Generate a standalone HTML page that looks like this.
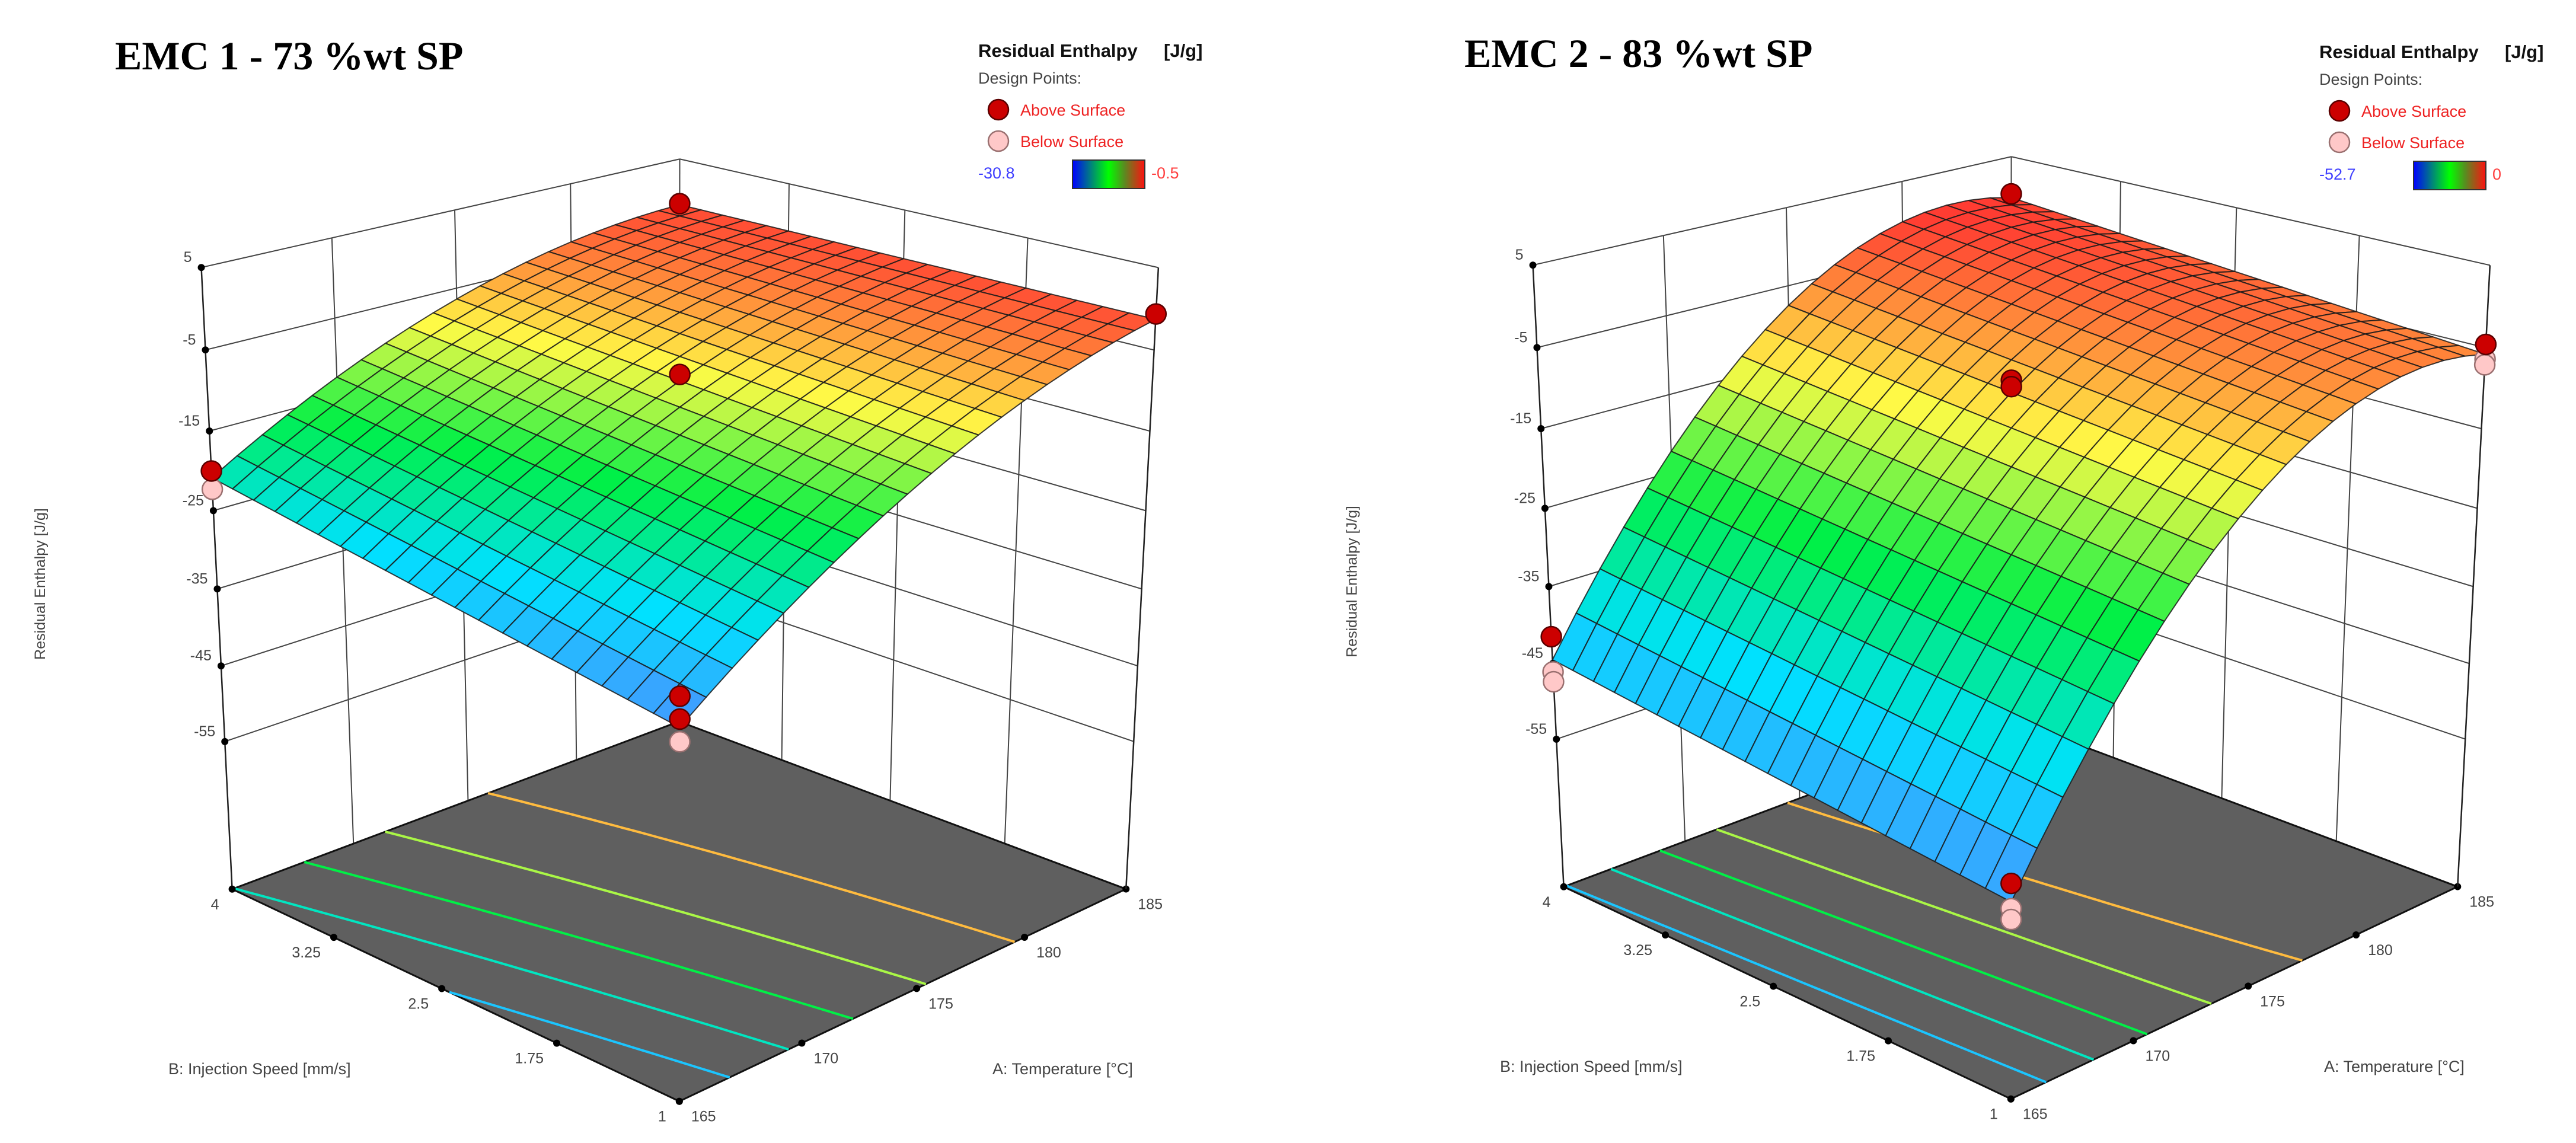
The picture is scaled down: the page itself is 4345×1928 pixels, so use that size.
<!DOCTYPE html>
<html><head><meta charset="utf-8">
<style>
html,body{margin:0;padding:0;background:#fff;}
svg{display:block;}
text{font-family:"Liberation Sans",sans-serif;}
</style></head>
<body>
<svg id="root" xmlns="http://www.w3.org/2000/svg" width="4345" height="1928" viewBox="0 0 4345 1928">
<defs>
<linearGradient id="cbar" x1="0" x2="1" y1="0" y2="0">
<stop offset="0" stop-color="#0000ff"/><stop offset="0.5" stop-color="#00ff00"/><stop offset="0.72" stop-color="#5a8a20"/><stop offset="1" stop-color="#ff1010"/>
</linearGradient>
</defs>
<rect x="0" y="0" width="4345" height="1928" fill="#fff"/>
</svg>
<script>
// ---- data ----
const zTicks=[5,-5,-15,-25,-35,-45,-55];
const aTicks=[165,170,175,180,185];
const bTicks=[1,1.75,2.5,3.25,4];
const bTickLabels=["1","1.75","2.5","3.25","4"];
// response-surface model coefficients [c0, cA, cB, cAB, cA2, cB2] (coded units)
const emc1Coef=[-8.8,12.2,2.4,-2.35,-4.6,0];
const emc2Coef=[-10.5,22.3,2.95,-0.3,-14.95,0];
const emc1Range=[-30.8,-0.5];
const emc2Range=[-52.7,0];
const emc1PtA=[185,185,175,165,165,165,165,165];
const emc1PtB=[4,1,2.5,4,4,1,1,1];
const emc1PtZ=[-1.0,-0.6,-8.0,-20.0,-22.3,-26.8,-29.4,-32.0];
const emc1PtAbove=[1,1,1,1,0,1,1,0];
const emc2PtA=[185,185,185,185,175,175,165,165,165,165,165,165];
const emc2PtB=[4,1,1,1,2.5,2.5,4,4,4,1,1,1];
const emc2PtZ=[0,-4.6,-6.4,-7.1,-9.0,-9.8,-41.5,-46.1,-47.4,-48.8,-51.8,-53.1];
const emc2PtAbove=[1,1,0,0,1,1,1,0,0,1,0,0];

const zMin=-75,zMax=5;
const NS="http://www.w3.org/2000/svg";
const root=document.getElementById('root');
function el(tag,attrs,parent){const e=document.createElementNS(NS,tag);for(const k in attrs)e.setAttribute(k,attrs[k]);(parent||root).appendChild(e);return e;}

function fitCamera(pts){
  const A=[],b=[];
  pts.forEach(p=>{const [u,v,w,x,y]=p;
    A.push([u,v,w,1,0,0,0,0,-x*u,-x*v,-x*w]);b.push(x);
    A.push([0,0,0,0,u,v,w,1,-y*u,-y*v,-y*w]);b.push(y);});
  const n=11,M=[];
  for(let i=0;i<n;i++){M.push(new Array(n+1).fill(0));
    for(let j=0;j<n;j++){let s=0;for(let r=0;r<A.length;r++)s+=A[r][i]*A[r][j];M[i][j]=s;}
    let s=0;for(let r=0;r<A.length;r++)s+=A[r][i]*b[r];M[i][n]=s;}
  for(let c=0;c<n;c++){let p=c;for(let r=c+1;r<n;r++)if(Math.abs(M[r][c])>Math.abs(M[p][c]))p=r;
    [M[c],M[p]]=[M[p],M[c]];
    for(let r=0;r<n;r++){if(r===c)continue;const f=M[r][c]/M[c][c];for(let k=c;k<=n;k++)M[r][k]-=f*M[c][k];}}
  const P=[];for(let i=0;i<n;i++)P.push(M[i][n]/M[i][i]);
  return P;
}

function cmap(t){
  t=Math.max(0,Math.min(1,t));
  const st=[[0,[80,140,255]],[0.25,[0,225,255]],[0.5,[0,240,70]],[0.75,[255,250,70]],[1,[255,60,50]]];
  for(let i=0;i<st.length-1;i++){if(t<=st[i+1][0]){const f=(t-st[i][0])/(st[i+1][0]-st[i][0]);
    const c=st[i][1].map((v,k)=>Math.round(v+(st[i+1][1][k]-v)*f));return `rgb(${c[0]},${c[1]},${c[2]})`;}}
  return 'rgb(255,60,50)';
}

function drawChart(cfg){
  const {dx,dy,coef,range,ptA,ptB,ptZ,ptAbove,title,titleX,legX,legY,minLabel,maxLabel,key}=cfg;
  const g=el('g',{});
  
  
  const cal=[[0,0,0,1146,1860],[0,1,0,391,1497],[1,0,0,1899,1497],[1,1,0,1146,1220],
             [0,1,1,340,452],[1,0,1,1954,452],[1,1,1,1146,267]].map(p=>[p[0],p[1],p[2],p[3]+dx,p[4]+dy]);
  const P=fitCamera(cal);
  function projUVW(u,v,w){const s=P[8]*u+P[9]*v+P[10]*w+1;
    return [(P[0]*u+P[1]*v+P[2]*w+P[3])/s,(P[4]*u+P[5]*v+P[6]*w+P[7])/s];}
  function proj(A,B,z){return projUVW((A-165)/20,(B-1)/3,(z-zMin)/(zMax-zMin));}
  function f(A,B){const a=(A-175)/10,b=(B-2.5)/1.5;
    return coef[0]+coef[1]*a+coef[2]*b+coef[3]*a*b+coef[4]*a*a+coef[5]*b*b;}
  const pstr=pts=>pts.map(p=>p[0].toFixed(1)+','+p[1].toFixed(1)).join(' ');
  function line(p1,p2,stroke,w,name,parent){const l=el('line',{x1:p1[0],y1:p1[1],x2:p2[0],y2:p2[1],stroke:stroke,'stroke-width':w},parent||g);
    
    return l;}

  const t=el('text',{x:titleX,y:117+dy,'font-size':68,'font-weight':'bold',fill:'#000',style:'font-family:"Liberation Serif",serif'},g);
  t.textContent=title;
  
  

  const wallCol='#444';
  zTicks.forEach(z=>{
    line(proj(165,4,z),proj(185,4,z),wallCol,2,'left-wall-gridline');
    line(proj(185,4,z),proj(185,1,z),wallCol,2,'right-wall-gridline');
  });
  aTicks.slice(1).forEach(A=>line(proj(A,4,zMin),proj(A,4,zMax),wallCol,2,'left-wall-vertical'));
  bTicks.slice(0,4).forEach(B=>line(proj(185,B,zMin),proj(185,B,zMax),wallCol,2,'right-wall-vertical'));
  line(proj(165,4,zMin),proj(165,4,zMax),'#222',2.5,'z-axis-line');

  const floor=el('polygon',{points:pstr([proj(165,1,zMin),proj(165,4,zMin),proj(185,4,zMin),proj(185,1,zMin)]),fill:'#5f5f5f',stroke:'#111','stroke-width':3},g);
  
  

  for(let k=1;k<=5;k++){
    const lvl=range[0]+k*(range[1]-range[0])/6;
    let pts=[];
    for(let i=0;i<=60;i++){const B=1+3*i/60;let found=null;
      let prevA=165,prevV=f(165,B)-lvl;
      for(let j=1;j<=400;j++){const A=165+20*j/400,vv=f(A,B)-lvl;
        if(prevV<=0&&vv>0){found=prevA+(A-prevA)*(-prevV)/(vv-prevV);break;}prevA=A;prevV=vv;}
      if(found!==null)pts.push(proj(found,B,zMin));}
    if(pts.length>1){const pl=el('polyline',{points:pstr(pts),fill:'none',stroke:cmap(k/6),'stroke-width':4},g);
      
      }
  }

  bTicks.forEach((B,i)=>{const p=proj(165,B,zMin);
    const d=el('circle',{cx:p[0],cy:p[1],r:6,fill:'#000'},g);
    
    
    const tx=el('text',{x:p[0]-22,y:p[1]+34,'font-size':25,fill:'#444','text-anchor':'end'},g);
    tx.textContent=bTickLabels[i];
    
    });
  aTicks.forEach(A=>{const p=proj(A,1,zMin);
    const d=el('circle',{cx:p[0],cy:p[1],r:6,fill:'#000'},g);
    
    
    const tx=el('text',{x:p[0]+20,y:p[1]+34,'font-size':25,fill:'#444'},g);
    tx.textContent=String(A);
    
    });
  zTicks.forEach(z=>{const p=proj(165,4,z);
    const d=el('circle',{cx:p[0],cy:p[1],r:6,fill:'#000'},g);
    
    
    const tx=el('text',{x:p[0]-16,y:p[1]-9,'font-size':25,fill:'#444','text-anchor':'end'},g);
    tx.textContent=String(z);
    
    });

  const N=20,cells=[];
  for(let i=0;i<N;i++)for(let j=0;j<N;j++)cells.push([i,j]);
  cells.sort((p,q)=>(q[0]+q[1])-(p[0]+p[1]));
  const sg=el('g',{},g);
  
  
  cells.forEach(([i,j])=>{
    const A0=165+20*i/N,A1=165+20*(i+1)/N,B0=1+3*j/N,B1=1+3*(j+1)/N;
    const pts=[proj(A0,B0,f(A0,B0)),proj(A1,B0,f(A1,B0)),proj(A1,B1,f(A1,B1)),proj(A0,B1,f(A0,B1))];
    const val=f((A0+A1)/2,(B0+B1)/2);
    const c=el('polygon',{points:pstr(pts),fill:cmap((val-range[0])/(range[1]-range[0])),stroke:'#1a1a1a','stroke-width':2,'stroke-opacity':0.85,'stroke-linejoin':'round'},sg);
    
    
  });

  line(proj(185,1,zMin),proj(185,1,zMax),'#222',2.5,'right-vertical-edge');

  [0,1].forEach(pass=>{
    ptA.forEach((A,i)=>{if(ptAbove[i]!==pass)return;
      const p=proj(A,ptB[i],ptZ[i]);
      const c=el('circle',{cx:p[0],cy:p[1],r:17,fill:pass?'#cc0000':'#ffc8c8',stroke:pass?'#5a0000':'#9a7070','stroke-width':2.5},g);
      
      });
  });

  const yt=el('text',{x:0,y:0,'font-size':25,fill:'#444','text-anchor':'middle',transform:`translate(${76+dx*0.985},${985+dy}) rotate(-90)`},g);
  yt.textContent='Residual Enthalpy [J/g]';
  
  
  const bt=el('text',{x:284+dx,y:1812+dy,'font-size':27,fill:'#444'},g);
  bt.textContent='B: Injection Speed [mm/s]';
  
  
  const at=el('text',{x:1674+dx,y:1812+dy,'font-size':27,fill:'#444'},g);
  at.textContent='A: Temperature [°C]';
  
  

  const lg=el('g',{},g);
  
  
  const l1=el('text',{x:legX,y:legY,'font-size':31,'font-weight':'bold',fill:'#111'},lg);
  
  
  const ts1=el('tspan',{},l1);ts1.textContent='Residual Enthalpy';
  const ts2=el('tspan',{x:legX+313},l1);ts2.textContent='[J/g]';
  const l2=el('text',{x:legX,y:legY+45,'font-size':27,fill:'#444'},lg);
  l2.textContent='Design Points:';
  
  
  const c1=el('circle',{cx:legX+34,cy:legY+89,r:17,fill:'#cc0000',stroke:'#5a0000','stroke-width':2.5},lg);
  
  
  const l3=el('text',{x:legX+71,y:legY+99,'font-size':27,fill:'#ee2222'},lg);
  l3.textContent='Above Surface';
  
  
  const c2=el('circle',{cx:legX+34,cy:legY+142,r:17,fill:'#ffc8c8',stroke:'#9a7070','stroke-width':2.5},lg);
  
  
  const l4=el('text',{x:legX+71,y:legY+152,'font-size':27,fill:'#ee2222'},lg);
  l4.textContent='Below Surface';
  
  
  const l5=el('text',{x:legX,y:legY+205,'font-size':27,fill:'#4040ff'},lg);
  l5.textContent=minLabel;
  
  
  const cb=el('rect',{x:legX+159,y:legY+174,width:122,height:48,fill:'url(#cbar)',stroke:'#333','stroke-width':2},lg);
  
  
  const l6=el('text',{x:legX+292,y:legY+205,'font-size':27,fill:'#ff4040'},lg);
  l6.textContent=maxLabel;
  
  
}

drawChart({key:'emc1',dx:0,dy:0,coef:emc1Coef,range:emc1Range,ptA:emc1PtA,ptB:emc1PtB,ptZ:emc1PtZ,ptAbove:emc1PtAbove,
  title:'EMC 1 - 73 %wt SP',titleX:194,legX:1650,legY:96,minLabel:'-30.8',maxLabel:'-0.5'});
drawChart({key:'emc2',dx:2246,dy:-4,coef:emc2Coef,range:emc2Range,ptA:emc2PtA,ptB:emc2PtB,ptZ:emc2PtZ,ptAbove:emc2PtAbove,
  title:'EMC 2 - 83 %wt SP',titleX:2470,legX:3912,legY:98,minLabel:'-52.7',maxLabel:'0'});
</script>
</body></html>
